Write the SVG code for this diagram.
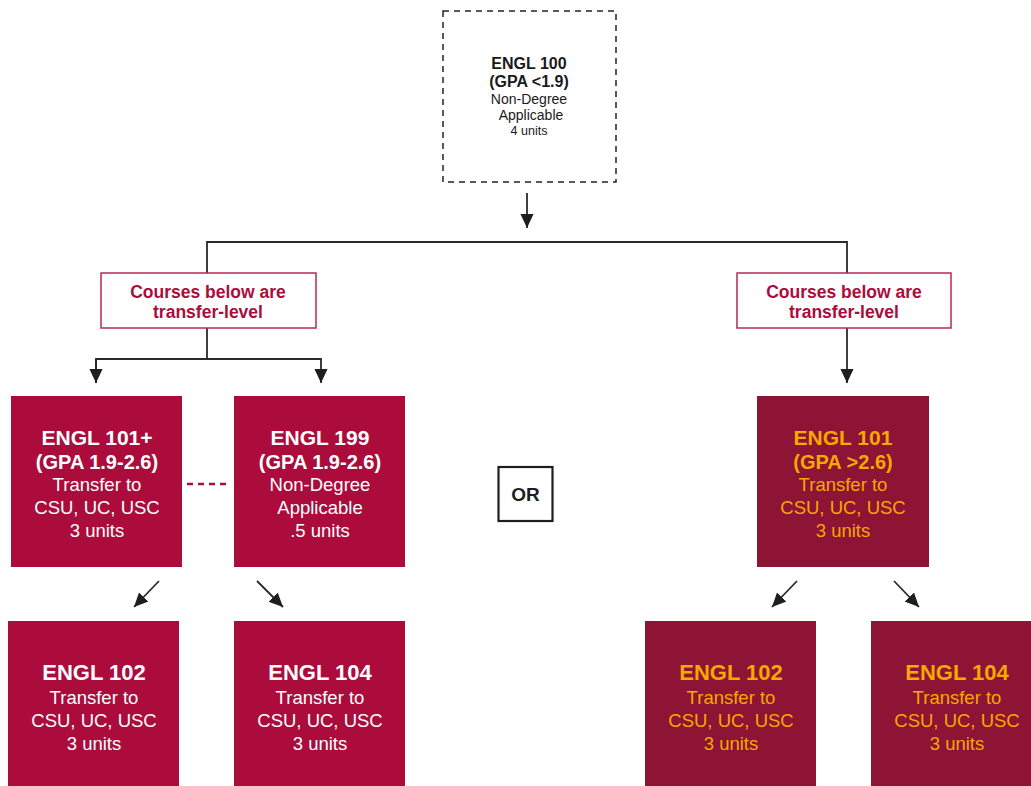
<svg xmlns="http://www.w3.org/2000/svg" width="1031" height="786" viewBox="0 0 1031 786">
<defs>
<style>
text{font-family:"Liberation Sans",Arial,sans-serif;text-anchor:middle}
.b{font-weight:bold}
.red{fill:#ab0c3c}
.mar{fill:#8e1436}
.w{fill:#ffffff}
.g{fill:#f5a800}
.lbl{fill:#ab0c3c;font-weight:bold;font-size:17.5px}
.tb{fill:#fff;stroke:#b72a52;stroke-width:1.5}
.ln{fill:none;stroke:#2a2a2a;stroke-width:1.8}
</style>
<marker id="ah" markerWidth="14" markerHeight="16" refX="15" refY="7" orient="auto" markerUnits="userSpaceOnUse" viewBox="0 0 15 14">
<path d="M0,0 L15,7 L0,14 Z" fill="#1e1e1e"/>
</marker>
</defs>
<rect width="1031" height="786" fill="#ffffff"/>

<g id="connectors">
<line class="ln" x1="527" y1="193" x2="527" y2="228" marker-end="url(#ah)"/>
<polyline class="ln" points="207,273 207,242 847,242 847,273"/>
<line class="ln" x1="207" y1="328" x2="207" y2="359"/>
<polyline class="ln" points="96,383 96,359 321,359 321,383" marker-end="url(#ah)"/>
<line class="ln" x1="96" y1="359" x2="96" y2="383" marker-end="url(#ah)"/>
<line class="ln" x1="847" y1="328" x2="847" y2="383" marker-end="url(#ah)"/>
<line class="ln" x1="159" y1="581" x2="134" y2="607" marker-end="url(#ah)"/>
<line class="ln" x1="257" y1="581" x2="283" y2="607" marker-end="url(#ah)"/>
<line class="ln" x1="797" y1="581" x2="772" y2="607" marker-end="url(#ah)"/>
<line class="ln" x1="894" y1="581" x2="919" y2="607" marker-end="url(#ah)"/>
<line x1="187" y1="484" x2="229" y2="484" stroke="#ab0c3c" stroke-width="2.5" stroke-dasharray="6,5"/>
</g>

<g id="engl100">
<rect x="443" y="11" width="173" height="171" fill="#fff" stroke="#222" stroke-width="1.5" stroke-dasharray="6,5"/>
<text x="529" y="69" class="b" font-size="16" fill="#1a1a1a">ENGL 100</text>
<text x="529" y="87" class="b" font-size="16" fill="#1a1a1a">(GPA &lt;1.9)</text>
<text x="529" y="104" font-size="14" fill="#1a1a1a">Non-Degree</text>
<text x="531" y="120" font-size="14" fill="#1a1a1a">Applicable</text>
<text x="529" y="135" font-size="12.5" fill="#1a1a1a">4 units</text>
</g>

<g id="transfer-left">
<rect class="tb" x="101" y="273" width="215" height="55"/>
<text class="lbl" x="208" y="298">Courses below are</text>
<text class="lbl" x="208" y="318">transfer-level</text>
</g>

<g id="transfer-right">
<rect class="tb" x="737" y="273" width="214" height="55"/>
<text class="lbl" x="844" y="298">Courses below are</text>
<text class="lbl" x="844" y="318">transfer-level</text>
</g>

<g id="engl101plus">
<rect class="red" x="11" y="396" width="171" height="171"/>
<text class="w b" x="97" y="445" font-size="21">ENGL 101+</text>
<text class="w b" x="97" y="469" font-size="20">(GPA 1.9-2.6)</text>
<text class="w" x="97" y="491" font-size="18.5">Transfer to</text>
<text class="w" x="97" y="514" font-size="18.5">CSU, UC, USC</text>
<text class="w" x="97" y="537" font-size="18.5">3 units</text>
</g>

<g id="engl199">
<rect class="red" x="234" y="396" width="171" height="171"/>
<text class="w b" x="320" y="445" font-size="21">ENGL 199</text>
<text class="w b" x="320" y="469" font-size="20">(GPA 1.9-2.6)</text>
<text class="w" x="320" y="491" font-size="18.5">Non-Degree</text>
<text class="w" x="320" y="514" font-size="18.5">Applicable</text>
<text class="w" x="320" y="537" font-size="18.5">.5 units</text>
</g>

<g id="or">
<rect x="498.5" y="467" width="54" height="54" fill="#fff" stroke="#1e1e1e" stroke-width="2.2"/>
<text x="525.5" y="501" class="b" font-size="19" fill="#1e1e1e">OR</text>
</g>

<g id="engl101">
<rect class="mar" x="757" y="396" width="172" height="171"/>
<text class="g b" x="843" y="445" font-size="21">ENGL 101</text>
<text class="g b" x="843" y="469" font-size="20">(GPA &gt;2.6)</text>
<text class="g" x="843" y="491" font-size="18.5">Transfer to</text>
<text class="g" x="843" y="514" font-size="18.5">CSU, UC, USC</text>
<text class="g" x="843" y="537" font-size="18.5">3 units</text>
</g>

<g id="engl102-left">
<rect class="red" x="8" y="621" width="171" height="165"/>
<text class="w b" x="94" y="680" font-size="22">ENGL 102</text>
<text class="w" x="94" y="704" font-size="18.5">Transfer to</text>
<text class="w" x="94" y="727" font-size="18.5">CSU, UC, USC</text>
<text class="w" x="94" y="750" font-size="18.5">3 units</text>
</g>

<g id="engl104-left">
<rect class="red" x="234" y="621" width="171" height="165"/>
<text class="w b" x="320" y="680" font-size="22">ENGL 104</text>
<text class="w" x="320" y="704" font-size="18.5">Transfer to</text>
<text class="w" x="320" y="727" font-size="18.5">CSU, UC, USC</text>
<text class="w" x="320" y="750" font-size="18.5">3 units</text>
</g>

<g id="engl102-right">
<rect class="mar" x="645" y="621" width="171" height="165"/>
<text class="g b" x="731" y="680" font-size="22">ENGL 102</text>
<text class="g" x="731" y="704" font-size="18.5">Transfer to</text>
<text class="g" x="731" y="727" font-size="18.5">CSU, UC, USC</text>
<text class="g" x="731" y="750" font-size="18.5">3 units</text>
</g>

<g id="engl104-right">
<rect class="mar" x="871" y="621" width="160" height="165"/>
<text class="g b" x="957" y="680" font-size="22">ENGL 104</text>
<text class="g" x="957" y="704" font-size="18.5">Transfer to</text>
<text class="g" x="957" y="727" font-size="18.5">CSU, UC, USC</text>
<text class="g" x="957" y="750" font-size="18.5">3 units</text>
</g>
</svg>
